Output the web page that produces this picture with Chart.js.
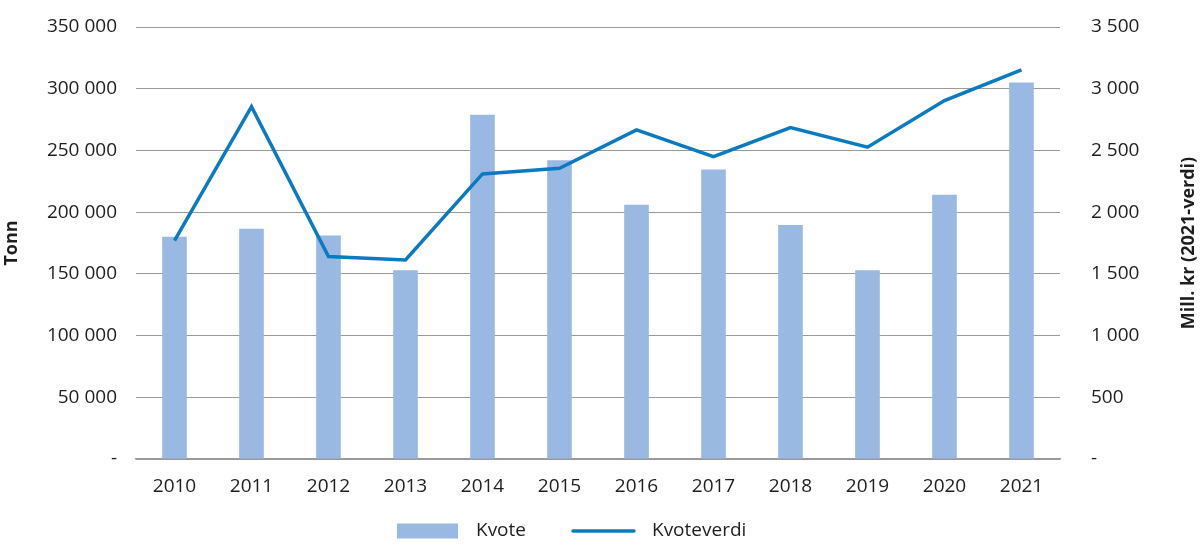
<!DOCTYPE html>
<html>
<head>
<meta charset="utf-8">
<script src="https://cdn.jsdelivr.net/npm/chart.js@4"></script>
<style>
    html, body { margin: 0; padding: 0; background: #fff; }
    .wrap { width: 1200px; height: 558px; }
</style>
</head>
<body>
<div class="wrap"><canvas id="chart" width="1200" height="558"></canvas></div>
<script>
// values
const years = ["2010", "2011", "2012", "2013", "2014", "2015", "2016", "2017", "2018", "2019", "2020", "2021"];
const kvote = [180000, 186500, 181000, 153000, 279000, 242000, 206000, 234500, 189500, 153000, 214000, 305000];
const kvoteverdi = [1770, 2855, 1640, 1613, 2310, 2356, 2666, 2450, 2685, 2526, 2904, 3152];

const leftTicks = ["-", "50 000", "100 000", "150 000", "200 000", "250 000", "300 000", "350 000"];
const rightTicks = ["-", "500", "1 000", "1 500", "2 000", "2 500", "3 000", "3 500"];

const leftTitle = "Tonn";
const rightTitle = "Mill. kr (2021-verdi)";

const FONT = "'Open Sans', 'Noto Sans', sans-serif";
const TEXT = "#1e1e1e";
const GRID = "#9a9a9a";

Chart.defaults.font.family = FONT;
Chart.defaults.font.size = 19;
Chart.defaults.color = TEXT;

// rotated axis titles, reading bottom to top
const axisTitles = {
    id: "axisTitles",
    afterDraw(chart) {
        const c = chart.ctx;
        const a = chart.chartArea;
        const mid = (a.top + a.bottom) / 2;
        c.save();
        c.font = `bold 18px ${FONT}`;
        c.fillStyle = TEXT;
        c.textAlign = "center";
        c.textBaseline = "middle";
        [[12, leftTitle], [1189, rightTitle]].forEach(([x, t]) => {
            c.save();
            c.translate(x, mid);
            c.rotate(-Math.PI / 2);
            c.fillText(t, 0, 0);
            c.restore();
        });
        c.restore();
    }
};

// legend drawn under the axis
const bottomLegend = {
    id: "bottomLegend",
    afterDraw(chart) {
        const c = chart.ctx;
        const ds = chart.data.datasets;
        const y = 531;
        c.save();
        c.font = `19px ${FONT}`;
        c.fillStyle = TEXT;
        c.textBaseline = "middle";
        c.textAlign = "left";

        c.fillStyle = ds[0].backgroundColor;
        c.fillRect(397, y - 7.5, 61, 15);
        c.fillStyle = TEXT;
        c.fillText(ds[0].label, 476, y);

        c.strokeStyle = ds[1].borderColor;
        c.lineWidth = ds[1].borderWidth;
        c.lineCap = "round";
        c.beginPath();
        c.moveTo(573, y);
        c.lineTo(634, y);
        c.stroke();
        c.fillText(ds[1].label, 652, y);
        c.restore();
    }
};

new Chart(document.getElementById("chart").getContext("2d"), {
    data: {
        labels: years,
        datasets: [{
            type: "bar",
            label: "Kvote",
            data: kvote,
            yAxisID: "y",
            backgroundColor: "#99b9e3",
            borderWidth: 0,
            categoryPercentage: 1,
            barPercentage: 0.32,
            order: 2
        }, {
            type: "line",
            label: "Kvoteverdi",
            data: kvoteverdi,
            yAxisID: "y1",
            borderColor: "#0a7bc1",
            backgroundColor: "#0a7bc1",
            borderWidth: 3.5,
            pointRadius: 0,
            tension: 0,
            fill: false,
            order: 1
        }]
    },
    options: {
        responsive: false,
        animation: false,
        layout: { padding: { top: 27, left: 0, right: 0, bottom: 0 } },
        plugins: {
            legend: { display: false },
            tooltip: { enabled: false }
        },
        scales: {
            x: {
                grid: { display: false, drawTicks: false },
                border: { display: true, color: GRID, width: 1.5 },
                ticks: { padding: 16 },
                afterFit(s) { s.height = 99; }
            },
            y: {
                position: "left",
                min: 0,
                max: 350000,
                grid: { color: GRID, lineWidth: 1, drawTicks: false },
                border: { display: false },
                ticks: {
                    stepSize: 50000,
                    padding: 19,
                    callback: v => leftTicks[Math.round(v / 50000)]
                },
                afterFit(s) {
                    s.width = 136;
                    s.paddingTop = 10;
                    s.paddingBottom = 10;
                }
            },
            y1: {
                position: "right",
                min: 0,
                max: 3500,
                grid: { display: false, drawTicks: false },
                border: { display: false },
                ticks: {
                    stepSize: 500,
                    padding: 31,
                    callback: v => rightTicks[Math.round(v / 500)]
                },
                afterFit(s) {
                    s.width = 140;
                    s.paddingTop = 10;
                    s.paddingBottom = 10;
                }
            }
        }
    },
    plugins: [axisTitles, bottomLegend]
});
</script>
</body>
</html>
